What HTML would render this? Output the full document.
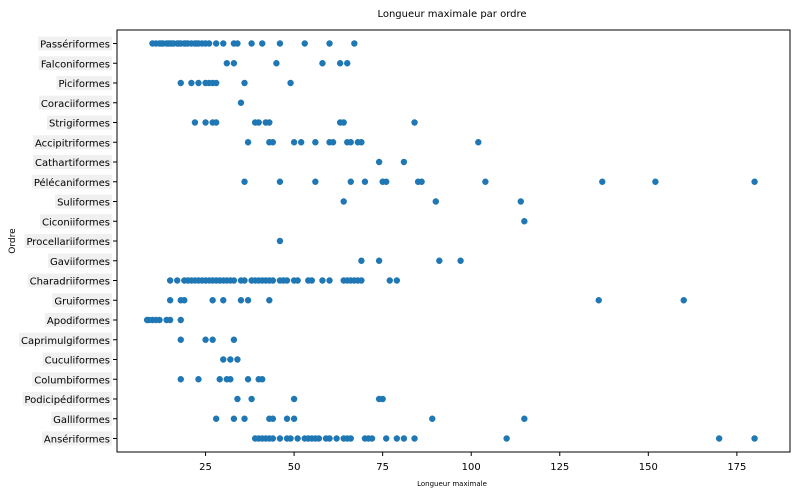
<!DOCTYPE html>
<html><head><meta charset="utf-8"><style>
body{margin:0;background:#fff;width:793px;height:496px;overflow:hidden;font-family:"Liberation Sans","DejaVu Sans",sans-serif}
svg text{font-family:"DejaVu Sans","Liberation Sans",sans-serif}
</style></head><body>
<svg id="chart" width="793" height="496" viewBox="0 0 793 496" xmlns="http://www.w3.org/2000/svg">
<text x="452" y="17" font-size="10" text-anchor="middle" fill="#000">Longueur maximale par ordre</text>
<rect x="117" y="30" width="673" height="422" fill="none" stroke="#000" stroke-width="1"/>
<g id="yticks"></g>
<g id="xticks"></g>
<g id="points"></g>
<text x="452" y="486" font-size="7" text-anchor="middle" fill="#000">Longueur maximale</text>
<text x="15" y="241" font-size="9" text-anchor="middle" fill="#000" transform="rotate(-90 15 241)">Ordre</text>
</svg>
<script>
const categories=["Passériformes","Falconiformes","Piciformes","Coraciiformes","Strigiformes","Accipitriformes","Cathartiformes","Pélécaniformes","Suliformes","Ciconiiformes","Procellariiformes","Gaviiformes","Charadriiformes","Gruiformes","Apodiformes","Caprimulgiformes","Cuculiformes","Columbiformes","Podicipédiformes","Galliformes","Ansériformes"];
const values=[
[10,11,12,12.5,13,14,14.5,15,15.5,16,17,17.5,18,19,19.5,20,21,22,22.5,23,24,25,26,28,30,33,34,38,41,46,53,60,67],
[31,33,45,58,63,65],
[18,21,23,25,26,27,28,36,49],
[35],
[22,25,27,28,39,40,42,43,63,64,84],
[37,43,44,50,52,56,60,61,65,66,68,69,102],
[74,81],
[36,46,56,66,70,75,76,85,86,104,137,152,180],
[64,90,114],
[115],
[46],
[69,74,91,97],
[15,17,19,20,21,22,23,24,25,26,27,28,29,30,31,32,33,35,36,38,39,40,41,42,43,44,46,47,48,50,51,54,55,58,60,64,65,66,67,68,69,77,79],
[15,18,19,27,30,35,37,43,136,160],
[8.5,9,10,11,12,14,15,18],
[18,25,27,33],
[30,32,34],
[18,23,29,31,32,37,40,41],
[34,38,50,74,75],
[28,33,36,43,44,48,50,89,115],
[39,40,41,42,43,44,46,48,49,51,53,54,55,56,57,59,60,62,64,65,66,70,71,72,76,79,81,84,110,170,180]
];
const xTicks=[25,50,75,100,125,150,175];
const NS="http://www.w3.org/2000/svg";
const X0=117,X1=790,XMIN=0,XMAX=190;
function xs(v){return X0+(v-XMIN)/(XMAX-XMIN)*(X1-X0);}
function ys(i){return 43.5+i*19.75;}
const yg=document.getElementById('yticks'),xg=document.getElementById('xticks'),pg=document.getElementById('points');
categories.forEach((c,i)=>{
  const y=ys(i);
  const bg=document.createElementNS(NS,'rect');
  
  
  yg.appendChild(bg);
  const t=document.createElementNS(NS,'text');
  
  
  t.setAttribute('x',110);t.setAttribute('y',y+4);t.setAttribute('text-anchor','end');t.setAttribute('font-size','10');t.textContent=c;
  yg.appendChild(t);
  const w=t.getComputedTextLength()+4;
  bg.setAttribute('x',112-w);bg.setAttribute('y',y-7);bg.setAttribute('width',w);bg.setAttribute('height',14);bg.setAttribute('fill','#f0f0f0');
  const l=document.createElementNS(NS,'line');
  
  
  l.setAttribute('x1',113);l.setAttribute('x2',117);l.setAttribute('y1',y);l.setAttribute('y2',y);l.setAttribute('stroke','#000');
  yg.appendChild(l);
  values[i].forEach(v=>{
    const p=document.createElementNS(NS,'circle');
    
    
    p.setAttribute('cx',xs(v));p.setAttribute('cy',y);p.setAttribute('r',3.2);p.setAttribute('fill','#1f77b4');
    pg.appendChild(p);
  });
});
xTicks.forEach(v=>{
  const x=xs(v);
  const l=document.createElementNS(NS,'line');
  
  
  l.setAttribute('x1',x);l.setAttribute('x2',x);l.setAttribute('y1',452);l.setAttribute('y2',456);l.setAttribute('stroke','#000');
  xg.appendChild(l);
  const t=document.createElementNS(NS,'text');
  
  
  t.setAttribute('x',x);t.setAttribute('y',470);t.setAttribute('text-anchor','middle');t.setAttribute('font-size','10');t.textContent=v;
  xg.appendChild(t);
});
</script>
</body></html>
